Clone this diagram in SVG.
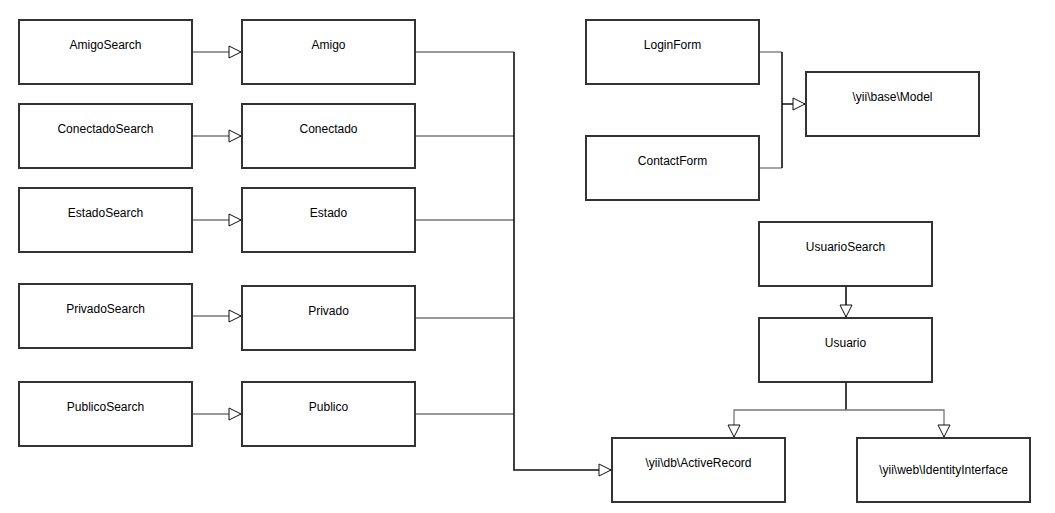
<svg xmlns="http://www.w3.org/2000/svg" width="1055" height="513" viewBox="0 0 1055 513">
<defs>
<style>
.box{fill:#fff;stroke:#333;stroke-width:2}
.t{font-family:"Liberation Sans",Arial,sans-serif;font-size:12px;fill:#000;text-anchor:middle}
.e{fill:none;stroke:#777;stroke-width:1.3}
.k{fill:none;stroke:#111;stroke-width:1.6}
</style>
<marker id="tri" viewBox="0 0 14 14" refX="13" refY="7" markerWidth="14" markerHeight="14" markerUnits="userSpaceOnUse" orient="auto">
<path d="M1,1 L13,7 L1,13 Z" fill="#fff" stroke="#111" stroke-width="1"/>
</marker>
</defs>
<rect width="1055" height="513" fill="#fff"/>
<g id="connectors">
<path class="e" d="M192,52 H241" marker-end="url(#tri)"/>
<path class="e" d="M192,136 H241" marker-end="url(#tri)"/>
<path class="e" d="M192,220 H241" marker-end="url(#tri)"/>
<path class="e" d="M192,316 H241" marker-end="url(#tri)"/>
<path class="e" d="M192,414 H241" marker-end="url(#tri)"/>
<path class="e" d="M415,52 H514"/>
<path class="e" d="M415,136 H514"/>
<path class="e" d="M415,220 H514"/>
<path class="e" d="M415,318 H514"/>
<path class="e" d="M415,414 H514"/>
<path class="k" d="M514,52 V470 H611" marker-end="url(#tri)"/>
<path class="e" d="M759,52 H782"/>
<path class="e" d="M759,168 H782"/>
<path class="k" d="M782,52 V168 M782,104 H805" marker-end="url(#tri)"/>
<path class="k" d="M846,286 V317" marker-end="url(#tri)"/>
<path class="k" d="M846,382 V410"/>
<path class="e" d="M846,410 H734 V437" marker-end="url(#tri)"/>
<path class="e" d="M846,410 H944 V437" marker-end="url(#tri)"/>
</g>
<g id="AmigoSearch"><rect class="box" x="19" y="20" width="173" height="64"/><text class="t" x="105.5" y="49">AmigoSearch</text></g>
<g id="ConectadoSearch"><rect class="box" x="19" y="104" width="173" height="64"/><text class="t" x="105.5" y="133">ConectadoSearch</text></g>
<g id="EstadoSearch"><rect class="box" x="19" y="188" width="173" height="64"/><text class="t" x="105.5" y="217">EstadoSearch</text></g>
<g id="PrivadoSearch"><rect class="box" x="19" y="284" width="173" height="64"/><text class="t" x="105.5" y="313">PrivadoSearch</text></g>
<g id="PublicoSearch"><rect class="box" x="19" y="382" width="173" height="64"/><text class="t" x="105.5" y="411">PublicoSearch</text></g>
<g id="Amigo"><rect class="box" x="242" y="20" width="173" height="64"/><text class="t" x="328.5" y="49">Amigo</text></g>
<g id="Conectado"><rect class="box" x="242" y="104" width="173" height="64"/><text class="t" x="328.5" y="133">Conectado</text></g>
<g id="Estado"><rect class="box" x="242" y="188" width="173" height="64"/><text class="t" x="328.5" y="217">Estado</text></g>
<g id="Privado"><rect class="box" x="242" y="286" width="173" height="64"/><text class="t" x="328.5" y="315">Privado</text></g>
<g id="Publico"><rect class="box" x="242" y="382" width="173" height="64"/><text class="t" x="328.5" y="411">Publico</text></g>
<g id="LoginForm"><rect class="box" x="586" y="20" width="173" height="64"/><text class="t" x="672.5" y="49">LoginForm</text></g>
<g id="ContactForm"><rect class="box" x="586" y="136" width="173" height="64"/><text class="t" x="672.5" y="165">ContactForm</text></g>
<g id="Model"><rect class="box" x="806" y="72" width="173" height="64"/><text class="t" x="892.5" y="101">\yii\base\Model</text></g>
<g id="UsuarioSearch"><rect class="box" x="759" y="222" width="173" height="64"/><text class="t" x="845.5" y="251">UsuarioSearch</text></g>
<g id="Usuario"><rect class="box" x="759" y="318" width="173" height="64"/><text class="t" x="845.5" y="347">Usuario</text></g>
<g id="ActiveRecord"><rect class="box" x="612" y="438" width="173" height="64"/><text class="t" x="698.5" y="467">\yii\db\ActiveRecord</text></g>
<g id="IdentityInterface"><rect class="box" x="857" y="438" width="173" height="64"/><text class="t" x="943.5" y="474">\yii\web\IdentityInterface</text></g>
</svg>
